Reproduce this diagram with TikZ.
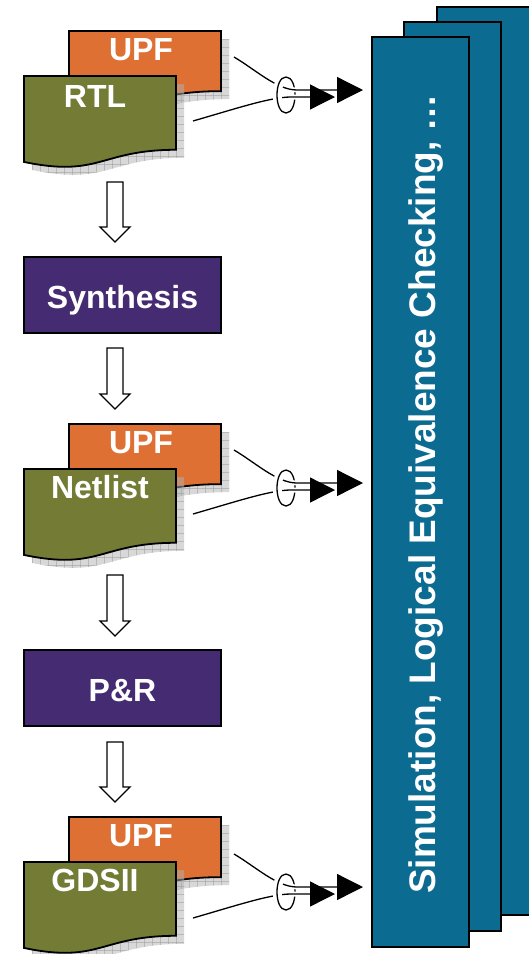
\documentclass[tikz,border=0pt]{standalone}
\usepackage{fontspec}
\setmainfont{Liberation Sans}
\usetikzlibrary{arrows.meta}

\definecolor{upfcol}{HTML}{DF7033}
\definecolor{srccol}{HTML}{737B35}
\definecolor{stepcol}{HTML}{452C72}
\definecolor{toolcol}{HTML}{0C6B91}

\tikzset{
  outline/.style={draw=black, line width=1.8pt, line join=miter},
  shadowfill/.style={fill=black!30, fill opacity=0.5},
  shadowgrid/.style={draw=black!40, line width=0.35pt, draw opacity=0.5},
  doclabel/.style={text=white, font=\bfseries\fontsize{32}{36}\selectfont, inner sep=0pt, anchor=base},
  stagebox/.style={outline, fill=stepcol, minimum width=197pt, minimum height=76pt,
    inner sep=0pt, text=white, font=\bfseries\fontsize{32}{36}\selectfont,
    text height=26pt, text depth=0pt},
  toolsheet/.style={outline, fill=toolcol},
  blockarrow/.style={draw=black, fill=white, line width=1.3pt, line join=miter},
  wire/.style={draw=black, line width=1.3pt},
  casing/.style={preaction={draw=white, line width=5pt, -}},
}

% flowchart "document" outline: x, y (top left), width, height
\newcommand\sheetpath[4]{(#1,#2) -- (#1+#3,#2) -- (#1+#3,#2+0.802*#4)
  .. controls (#1+0.5*#3,#2+0.802*#4) and (#1+0.5*#3,#2+1.107*#4) .. (#1,#2+0.934*#4) -- cycle}

% document with its gridded drop shadow
\newcommand\sheet[5]{%
  \fill[shadowfill] \sheetpath{#1+8}{#2+8}{#3}{#4};
  \begin{scope}
    \clip \sheetpath{#1+8}{#2+8}{#3}{#4};
    \foreach \gx in {0,8,...,176} \draw[shadowgrid] (#1+\gx,#2) -- ++(0,#4+24);
    \foreach \gy in {0,8,...,120} \draw[shadowgrid] (#1,#2+\gy) -- ++(#3+24,0);
  \end{scope}
  \filldraw[outline, fill=#5] \sheetpath{#1}{#2}{#3}{#4};
}

% two inputs gathered by a ring and fed to the checking tools
\newcommand\feed[2]{%
  \begin{scope}[shift={(0,#2)}]
    \coordinate (upfout#1) at (234,57);
    \coordinate (srcout#1) at (193,121);
    \coordinate (ringtop#1) at (286,77);
    \coordinate (ringbot#1) at (286,113);
    \coordinate (hi#1) at (363,90);
    \coordinate (lo#1) at (335,97);
    \draw[wire] (ringtop#1) .. controls +(12,0) and +(12,0) .. (ringbot#1);
    \draw[wire, casing, -{Triangle[length=26pt,width=26pt]}]
      (upfout#1) .. controls +(22,13) and +(-20,0) .. (297,90) -- (hi#1);
    \draw[wire, casing, -{Triangle[length=25pt,width=25pt]}]
      (srcout#1) .. controls +(45,-13) and +(-20,0) .. (291,97) -- (lo#1);
    \draw[white, line width=9pt] (279.8,82) .. controls (276.5,88) and (276.5,102) .. (279.8,108);
    \draw[wire] (ringtop#1) .. controls +(-12,0) and +(-12,0) .. (ringbot#1);
  \end{scope}}

% hollow block arrow pointing down: x centre, top, tip
\newcommand\blockdown[3]{%
  \draw[blockarrow] (#1-8,#2) -- (#1+8,#2) -- (#1+8,#3-15) -- (#1+15,#3-15)
    -- (#1,#3) -- (#1-15,#3-15) -- (#1-8,#3-15) -- cycle;}

\begin{document}
\begin{tikzpicture}[x=1pt, y=-1pt]
  \useasboundingbox (0,0) rectangle (529,954);

  % RTL + UPF
  \sheet{69}{31}{152}{75}{upfcol}
  \sheet{24}{76}{152}{92}{srccol}
  \node[doclabel] (upfA) at (141,60) {UPF};
  \node[doclabel] (rtl) at (95,107) {RTL};

  % Netlist + UPF
  \sheet{69}{424}{152}{75}{upfcol}
  \sheet{24}{469}{152}{92}{srccol}
  \node[doclabel] (upfB) at (141,453) {UPF};
  \node[doclabel] (netlist) at (100,498) {Netlist};

  % GDSII + UPF
  \sheet{69}{817}{152}{75}{upfcol}
  \sheet{24}{862}{152}{92}{srccol}
  \node[doclabel] (upfC) at (141,846) {UPF};
  \node[doclabel] (gds) at (95,891) {GDSII};

  % implementation steps
  \node[stagebox] (synth) at (122.5,295) {Synthesis};
  \node[stagebox] (pnr) at (122.5,688) {P\&R};

  \blockdown{115}{182}{242}
  \blockdown{115}{348}{409}
  \blockdown{115}{575}{636}
  \blockdown{115}{742}{802}

  % connections to the verification tools
  \feed{1}{0}
  \feed{2}{393}
  \feed{3}{797}

  % stack of verification tools
  \draw[toolsheet] (437,7) rectangle (545,915);
  \draw[toolsheet] (404,22) rectangle (501,931);
  \draw[toolsheet] (372,37) rectangle (469,947);
  \node[rotate=90, anchor=base, inner sep=0pt, text=white,
        font=\bfseries\fontsize{37}{40}\selectfont] (checks) at (435,494)
        {Simulation, Logical Equivalence Checking, …};
\end{tikzpicture}
\end{document}
